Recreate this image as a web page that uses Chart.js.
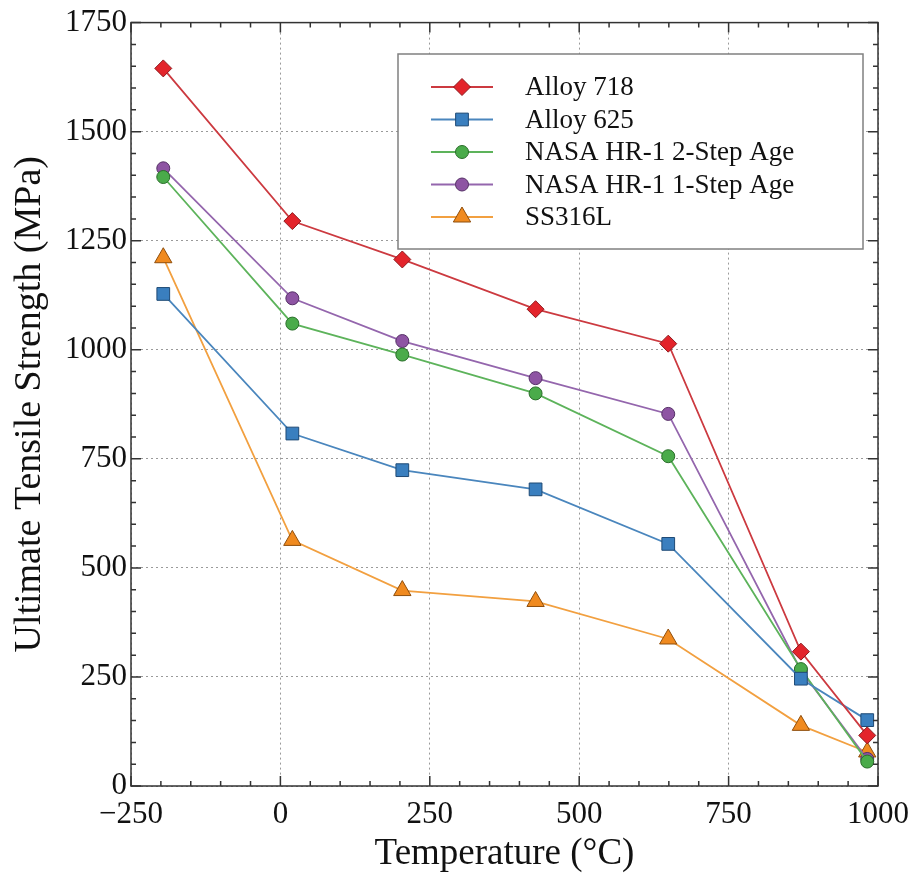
<!DOCTYPE html>
<html>
<head>
<meta charset="utf-8">
<script src="https://cdn.jsdelivr.net/npm/chart.js@4.4.1/dist/chart.umd.min.js"></script>
<style>
  html, body { margin: 0; padding: 0; background: #fff; }
  #wrap { width: 919px; height: 887px; }
</style>
</head>
<body>
<div id="wrap"><canvas id="myChart" width="919" height="887"></canvas></div>
<script>
  // Data
  const temps = [-196, 20, 204, 427, 649, 871, 982];
  const alloy718 = [1645, 1295, 1207, 1093, 1014, 308, 116];
  const alloy625 = [1128, 808, 724, 680, 555, 246, 151];
  const hr1TwoStep = [1396, 1060, 989, 900, 756, 268, 56];
  const hr1OneStep = [1416, 1118, 1020, 935, 853, 265, 62];
  const ss316l = [1211, 563, 448, 423, 337, 139, 78];

  const seriesNames = ['Alloy 718', 'Alloy 625', 'NASA HR-1 2-Step Age', 'NASA HR-1 1-Step Age', 'SS316L'];
  const xTicks = [-250, 0, 250, 500, 750, 1000];
  const yTicks = [0, 250, 500, 750, 1000, 1250, 1500, 1750];

  const SERIF = '"Liberation Serif", "Times New Roman", serif';

  const STYLE = [
    { line: '#cc3a40', fill: '#e3242b', edge: '#8e1a1e', shape: 'rectRot', r: 8.5 },
    { line: '#4a86bd', fill: '#3a7fbf', edge: '#1f4a75', shape: 'rect', r: 9 },
    { line: '#5db35b', fill: '#4aab4a', edge: '#2a6e2a', shape: 'circle', r: 6.5 },
    { line: '#9466ad', fill: '#8e54a3', edge: '#553066', shape: 'circle', r: 6.5 },
    { line: '#f2a040', fill: '#f08a1f', edge: '#8f4e0c', shape: 'triangle', r: 10 }
  ];

  function pts(ys) {
    return temps.map((t, i) => ({ x: t, y: ys[i] }));
  }

  const values = [alloy718, alloy625, hr1TwoStep, hr1OneStep, ss316l];
  const datasets = values.map((ys, i) => ({
    label: seriesNames[i],
    data: pts(ys),
    borderColor: STYLE[i].line,
    borderWidth: 1.8,
    backgroundColor: STYLE[i].fill,
    pointBackgroundColor: STYLE[i].fill,
    pointBorderColor: STYLE[i].edge,
    pointBorderWidth: 1,
    pointStyle: STYLE[i].shape,
    pointRadius: STYLE[i].r,
    pointHoverRadius: STYLE[i].r,
    tension: 0
  }));

  // ticks pointing inwards, minor every 50, plus the frame
  const framePlugin = {
    id: 'frame',
    afterDraw(chart) {
      const { ctx, chartArea: a, scales: { x, y } } = chart;
      ctx.save();
      ctx.strokeStyle = '#333';
      ctx.lineWidth = 1.5;
      ctx.beginPath();
      for (let v = x.min; v <= x.max; v += 50) {
        const px = x.getPixelForValue(v);
        const len = v % 250 === 0 ? 10 : 5;
        ctx.moveTo(px, a.bottom); ctx.lineTo(px, a.bottom - len);
        ctx.moveTo(px, a.top); ctx.lineTo(px, a.top + len);
      }
      for (let v = y.min; v <= y.max; v += 50) {
        const py = y.getPixelForValue(v);
        const len = v % 250 === 0 ? 10 : 5;
        ctx.moveTo(a.left, py); ctx.lineTo(a.left + len, py);
        ctx.moveTo(a.right, py); ctx.lineTo(a.right - len, py);
      }
      ctx.stroke();
      ctx.strokeRect(a.left, a.top, a.right - a.left, a.bottom - a.top);
      ctx.restore();
    }
  };

  // legend box inside the plot, upper right
  const legendPlugin = {
    id: 'boxLegend',
    afterDraw(chart) {
      const { ctx } = chart;
      const box = { left: 398, top: 54, right: 863, bottom: 249 };
      ctx.save();
      ctx.fillStyle = '#fff';
      ctx.fillRect(box.left, box.top, box.right - box.left, box.bottom - box.top);
      ctx.strokeStyle = '#808080';
      ctx.lineWidth = 1.5;
      ctx.strokeRect(box.left, box.top, box.right - box.left, box.bottom - box.top);
      chart.data.datasets.forEach((ds, i) => {
        const rowY = 87 + i * 32.5;
        ctx.strokeStyle = ds.borderColor;
        ctx.lineWidth = ds.borderWidth;
        ctx.beginPath();
        ctx.moveTo(431, rowY);
        ctx.lineTo(493, rowY);
        ctx.stroke();
        ctx.fillStyle = ds.pointBackgroundColor;
        ctx.strokeStyle = ds.pointBorderColor;
        ctx.lineWidth = ds.pointBorderWidth;
        Chart.helpers.drawPoint(ctx, {
          pointStyle: ds.pointStyle,
          radius: ds.pointRadius,
          rotation: 0,
          borderWidth: ds.pointBorderWidth
        }, 462, rowY);
        ctx.fillStyle = '#111';
        ctx.font = '27px ' + SERIF;
        ctx.textBaseline = 'middle';
        ctx.textAlign = 'left';
        ctx.fillText(ds.label, 525, rowY + 1);
      });
      ctx.restore();
    }
  };

  const config = {
    type: 'line',
    data: { datasets: datasets },
    options: {
      responsive: false,
      animation: false,
      events: [],
      layout: { padding: { top: 22, right: 36, bottom: 0, left: 0 } },
      plugins: {
        legend: { display: false },
        tooltip: { enabled: false }
      },
      scales: {
        x: {
          type: 'linear',
          min: -250,
          max: 1000,
          afterBuildTicks: (s) => { s.ticks = xTicks.map(v => ({ value: v })); },
          afterFit: (s) => { s.height = 101; },
          grid: { color: '#9a9a9a', lineWidth: 1, drawTicks: false },
          border: { display: false, dash: [2, 3] },
          ticks: {
            padding: 10,
            color: '#111',
            font: { family: SERIF, size: 31 },
            maxRotation: 0,
            callback: (v) => String(v).replace('-', '\u2212')
          },
          title: {
            display: true,
            text: 'Temperature (\u00B0C)',
            color: '#111',
            font: { family: SERIF, size: 37, lineHeight: 1 },
            padding: { top: 0, bottom: 14 }
          }
        },
        y: {
          type: 'linear',
          min: 0,
          max: 1750,
          afterBuildTicks: (s) => { s.ticks = yTicks.map(v => ({ value: v })); },
          afterFit: (s) => { s.width = 131; },
          grid: { color: '#9a9a9a', lineWidth: 1, drawTicks: false },
          border: { display: false, dash: [2, 3] },
          ticks: {
            padding: 4,
            color: '#111',
            font: { family: SERIF, size: 31 },
            callback: (v) => String(v)
          },
          title: {
            display: true,
            text: 'Ultimate Tensile Strength (MPa)',
            color: '#111',
            font: { family: SERIF, size: 38, lineHeight: 1 },
            padding: { top: 11, bottom: 0 }
          }
        }
      }
    },
    plugins: [framePlugin, legendPlugin]
  };

  window.onload = function() {
    const ctx = document.getElementById('myChart').getContext('2d');
    new Chart(ctx, config);
  };
</script>
</body>
</html>
